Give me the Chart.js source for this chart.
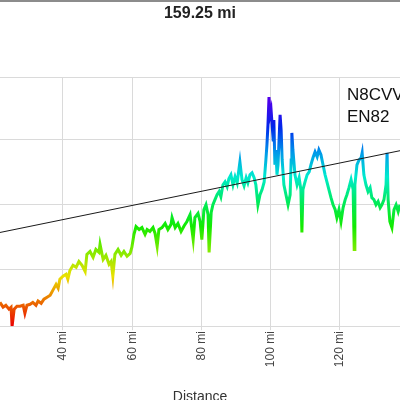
<!DOCTYPE html>
<html>
<head>
<meta charset="utf-8">
<title>Path profile</title>
<script src="https://cdn.jsdelivr.net/npm/chart.js@4/dist/chart.umd.min.js"></script>
<style>
  html, body { margin: 0; padding: 0; background: #fff; overflow: hidden; }
  #wrap { width: 400px; height: 410px; }
</style>
</head>
<body>
<div id="wrap"><canvas id="profile" width="400" height="410"></canvas></div>
<script>
// path length shown in the title
const pathLength = "159.25 mi";
const stationCall = "N8CVV";
const stationGrid = "EN82";

// terrain profile, distance (mi) and elevation (ft)
const distances = [
  21.8, 22.7, 23.5, 24.4, 25.0, 25.3, 25.9, 26.7, 27.6, 28.5, 29.0, 29.6, 30.5, 31.3, 32.2, 32.8,
  33.7, 34.5, 35.4, 36.3, 37.1, 38.0, 38.6, 39.1, 40.0, 40.9, 41.4, 42.0, 42.9, 43.8, 44.6, 45.5,
  46.4, 46.9, 47.8, 48.7, 49.5, 50.4, 50.7, 51.6, 52.4, 53.3, 53.9, 54.4, 55.0, 55.9, 56.8, 57.6,
  58.5, 59.4, 59.9, 60.5, 61.1, 62.0, 62.8, 63.7, 64.3, 65.1, 66.0, 66.6, 67.2, 67.7, 68.6, 69.5,
  70.3, 71.2, 71.5, 72.4, 73.2, 74.1, 75.0, 75.8, 76.7, 77.6, 78.1, 79.0, 79.6, 80.1, 80.7, 81.3,
  81.9, 82.2, 82.8, 83.3, 83.9, 84.5, 85.1, 85.6, 86.2, 86.8, 87.4, 87.9, 88.5, 89.1, 89.7, 90.3,
  90.8, 91.1, 91.7, 92.3, 92.9, 93.4, 94.0, 94.6, 95.2, 95.7, 96.3, 96.9, 97.5, 98.1, 98.6, 98.9,
  99.2, 99.5, 99.8, 100.1, 100.4, 100.7, 100.9, 101.2, 101.5, 101.8, 102.1, 102.4, 102.7, 103.0, 103.3, 103.8,
  104.4, 105.0, 105.6, 105.9, 106.1, 106.4, 107.0, 107.6, 108.2, 108.7, 109.0, 109.3, 109.9, 110.5, 111.1, 111.6,
  112.2, 112.8, 113.4, 113.9, 114.5, 115.1, 115.7, 116.3, 116.8, 117.4, 118.0, 118.6, 119.1, 119.7, 120.3, 120.9,
  121.5, 122.0, 122.6, 123.2, 123.8, 124.1, 124.3, 124.9, 125.5, 126.1, 126.4, 126.9, 127.5, 128.1, 128.7, 129.2,
  129.8, 130.4, 131.0, 131.6, 132.1, 132.7, 133.3, 133.6, 133.9, 134.4, 135.0, 135.6, 136.2, 136.8, 137.3
];
const elevations = [
  701, 686, 692, 680, 686, 627, 680, 689, 689, 692, 667, 692, 695, 701, 692, 705,
  698, 711, 717, 723, 739, 757, 745, 773, 782, 788, 773, 800, 816, 810, 828, 816,
  797, 850, 859, 841, 865, 856, 881, 834, 847, 819, 828, 782, 850, 865, 847, 859,
  844, 853, 872, 912, 936, 927, 933, 912, 927, 921, 933, 915, 875, 927, 933, 946,
  927, 943, 964, 933, 946, 921, 939, 952, 973, 896, 964, 977, 952, 896, 989, 1004,
  973, 856, 980, 1004, 1020, 1035, 1045, 1029, 1066, 1075, 1060, 1085, 1097, 1066, 1091, 1072,
  1113, 1137, 1082, 1063, 1088, 1072, 1097, 1103, 1088, 1066, 1004, 1035, 1051, 1075, 1143, 1190,
  1252, 1338, 1283, 1298, 1252, 1205, 1267, 1128, 1174, 1097, 1128, 1205, 1283, 1236, 1143, 1066,
  1035, 1004, 1035, 1143, 1227, 1174, 1097, 1066, 1088, 1051, 918, 1051, 1075, 1097, 1106, 1128,
  1150, 1168, 1153, 1174, 1159, 1128, 1097, 1072, 1051, 1026, 1004, 989, 964, 989, 952, 995,
  1020, 1035, 1057, 1082, 1051, 865, 1066, 1128, 1143, 1150, 1165, 1097, 1066, 1045, 1057, 1026,
  1020, 1004, 1014, 995, 1004, 1020, 1066, 1165, 1020, 952, 933, 989, 1004, 983, 1004
];

// line of sight between the two ends of the path
const losDistances = [0, 159.25];
const losHeights = [870, 1220];

// axis ranges and ticks (the crop shows 21.8 .. 137.3 mi)
const xMin = 21.81, xMax = 137.33, xStep = 20;
const yMin = 627, yMax = 1400;
const yGridValues = [803, 1006, 1208, 1400];

const terrain = distances.map((d, i) => ({ x: d, y: elevations[i] }));
const sightLine = losDistances.map((d, i) => ({ x: d, y: losHeights[i] }));

// rainbow by elevation: red at the bottom, violet at the top
function elevationGradient(context) {
  const chart = context.chart;
  const area = chart.chartArea;
  if (!area) return "#f00";
  const y = chart.scales.y;
  const g = chart.ctx.createLinearGradient(0, y.getPixelForValue(yMin), 0, y.getPixelForValue(yMax));
  for (let i = 0; i <= 10; i++) {
    const t = i / 10;
    const hue = Math.min(270, t * 288);
    g.addColorStop(t, "hsl(" + hue + ", 100%, 46%)");
  }
  return g;
}

const frameAndLabels = {
  id: "frameAndLabels",
  afterDraw(chart) {
    const { ctx, scales } = chart;
    ctx.save();
    ctx.fillStyle = "#8c8c8c";
    ctx.fillRect(0, 0, chart.width, 2);
    ctx.fillStyle = "#111";
    ctx.font = "17px 'Liberation Sans', Arial, sans-serif";
    ctx.textAlign = "left";
    ctx.textBaseline = "alphabetic";
    const lx = scales.x.getPixelForValue(122.0);
    ctx.fillText(stationCall, lx, scales.y.getPixelForValue(1329));
    ctx.fillText(stationGrid, lx, scales.y.getPixelForValue(1261));
    ctx.restore();
  }
};

new Chart(document.getElementById("profile"), {
  type: "line",
  data: {
    datasets: [
      {
        label: "Line of sight",
        data: sightLine,
        borderColor: "#1a1a1a",
        borderWidth: 1,
        pointRadius: 0,
        order: 0
      },
      {
        label: "Terrain",
        data: terrain,
        borderColor: elevationGradient,
        borderWidth: 3,
        pointRadius: 0,
        tension: 0,
        order: 1
      }
    ]
  },
  options: {
    responsive: false,
    animation: false,
    layout: { autoPadding: false, padding: { left: 0, right: 0, top: 0, bottom: 3 } },
    plugins: {
      legend: { display: false },
      tooltip: { enabled: false },
      title: {
        display: true,
        text: pathLength,
        color: "#222",
        font: { family: "'Liberation Sans', Arial, sans-serif", size: 16, weight: "bold" },
        padding: { top: 4, bottom: 54 }
      }
    },
    scales: {
      x: {
        type: "linear",
        min: xMin,
        max: xMax,
        grid: { color: "#dadada", tickLength: 4 },
        border: { color: "#dadada" },
        ticks: {
          stepSize: xStep,
          includeBounds: false,
          minRotation: 90,
          maxRotation: 90,
          padding: 1,
          color: "#444",
          font: { family: "'Liberation Sans', Arial, sans-serif", size: 12 },
          callback: (v) => v + " mi"
        },
        title: {
          display: true,
          text: "Distance",
          color: "#333",
          font: { family: "'Liberation Sans', Arial, sans-serif", size: 14 },
          padding: { top: 21, bottom: 1 }
        }
      },
      y: {
        min: yMin,
        max: yMax,
        afterBuildTicks: (scale) => {
          scale.ticks = yGridValues.map((v) => ({ value: v }));
        },
        grid: { color: "#dadada", drawTicks: false },
        border: { display: false },
        ticks: { display: false }
      }
    }
  },
  plugins: [frameAndLabels]
});
</script>
</body>
</html>
